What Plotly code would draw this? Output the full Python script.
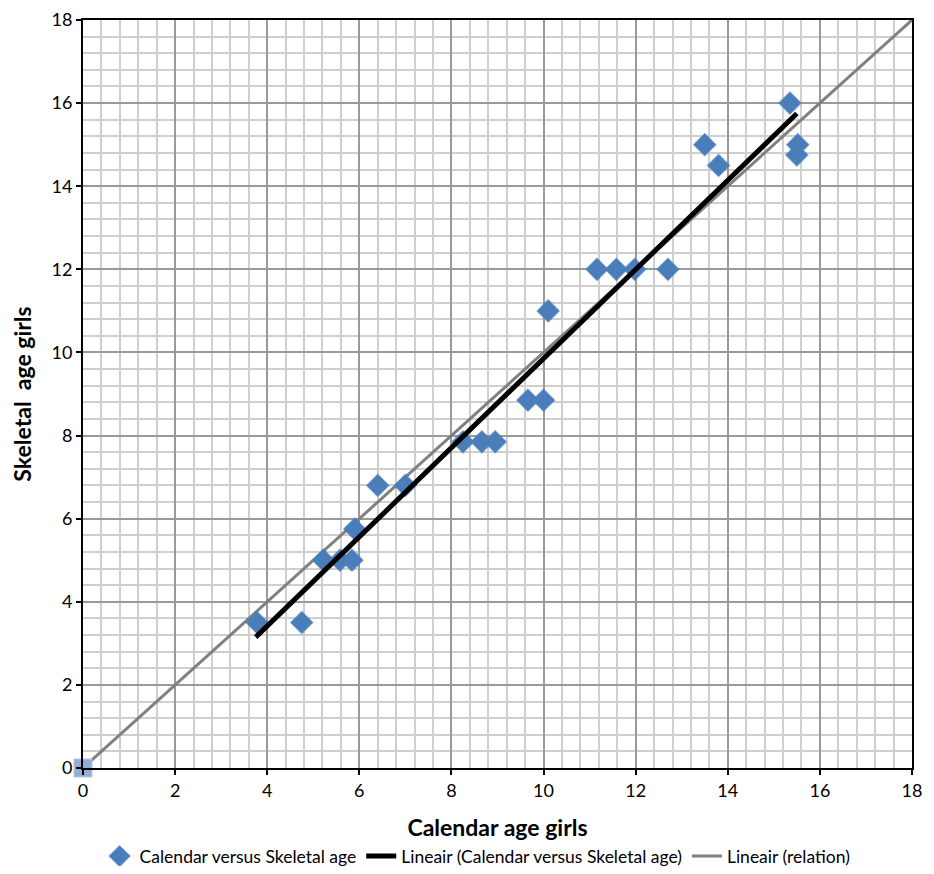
import plotly.graph_objects as go

calendar_age = [3.78, 4.75, 5.22, 5.58, 5.84, 5.9, 6.4, 7.0, 8.25, 8.66, 8.95,
                9.66, 10.0, 10.1, 11.16, 11.58, 11.98, 12.7, 13.5, 13.8,
                15.35, 15.52, 15.5]
skeletal_age = [3.5, 3.5, 5.0, 5.0, 5.0, 5.75, 6.8, 6.8, 7.85, 7.85, 7.85,
                8.85, 8.85, 11.0, 12.0, 12.0, 12.0, 12.0, 15.0, 14.5,
                16.0, 15.0, 14.75]

trend_x = [3.75, 15.5]
trend_y = [3.15, 15.75]

relation_x = [0, 18]
relation_y = [0, 18]
relation_marker_x = [0]
relation_marker_y = [0]

tick_vals = [0, 2, 4, 6, 8, 10, 12, 14, 16, 18]

FONT = "Lato, Open Sans, sans-serif"

fig = go.Figure()

fig.add_trace(go.Scatter(
    x=relation_x, y=relation_y, mode="lines",
    line=dict(color="#808080", width=3),
    name="Lineair (relation)", legendrank=3,
))
fig.add_trace(go.Scatter(
    x=relation_marker_x, y=relation_marker_y, mode="markers",
    marker=dict(symbol="square", size=18, color="#94AED3",
                line=dict(color="#B9C7DA", width=1)),
    showlegend=False, cliponaxis=False,
))
fig.add_trace(go.Scatter(
    x=calendar_age, y=skeletal_age, mode="markers",
    marker=dict(symbol="diamond", size=17, color="#4A7EBB",
                line=dict(color="rgba(74,126,187,0.5)", width=1.5)),
    name="Calendar versus Skeletal age", legendrank=1,
))
fig.add_trace(go.Scatter(
    x=trend_x, y=trend_y, mode="lines",
    line=dict(color="#000000", width=5),
    name="Lineair (Calendar versus Skeletal age)", legendrank=2,
))

axis_common = dict(
    range=[0, 18], tickvals=tick_vals, ticktext=[str(v) for v in tick_vals],
    showgrid=True, gridcolor="#9A9A9A", gridwidth=1.5,
    minor=dict(dtick=0.4, tick0=0, showgrid=True, gridcolor="#CFCFCF", gridwidth=2),
    showline=True, linecolor="#000000", linewidth=2, mirror=True,
    ticks="outside", ticklen=5, tickcolor="#000000", tickwidth=1.5,
    zeroline=False, automargin=False, ticklabeloverflow="allow",
    tickfont=dict(family=FONT, size=18, color="#000000"),
)

fig.update_xaxes(**axis_common,
                 title=dict(text="<b>Calendar age girls</b>",
                            font=dict(family=FONT, size=23, color="#000000"),
                            standoff=20))
fig.update_yaxes(**axis_common,
                 title=dict(text="<b>Skeletal  age girls</b>",
                            font=dict(family=FONT, size=23, color="#000000"),
                            standoff=14))

fig.update_layout(
    width=918, height=858,
    margin=dict(l=75, r=14, t=12, b=98, autoexpand=False),
    plot_bgcolor="#FFFFFF", paper_bgcolor="#FFFFFF",
    font=dict(family=FONT, color="#000000"),
    showlegend=True,
    legend=dict(orientation="h", x=0.476, xanchor="center", y=-0.142, yanchor="bottom",
                font=dict(family=FONT, size=17.5, color="#000000"),
                itemwidth=30, tracegroupgap=0),
)

fig.write_html("out.html")
